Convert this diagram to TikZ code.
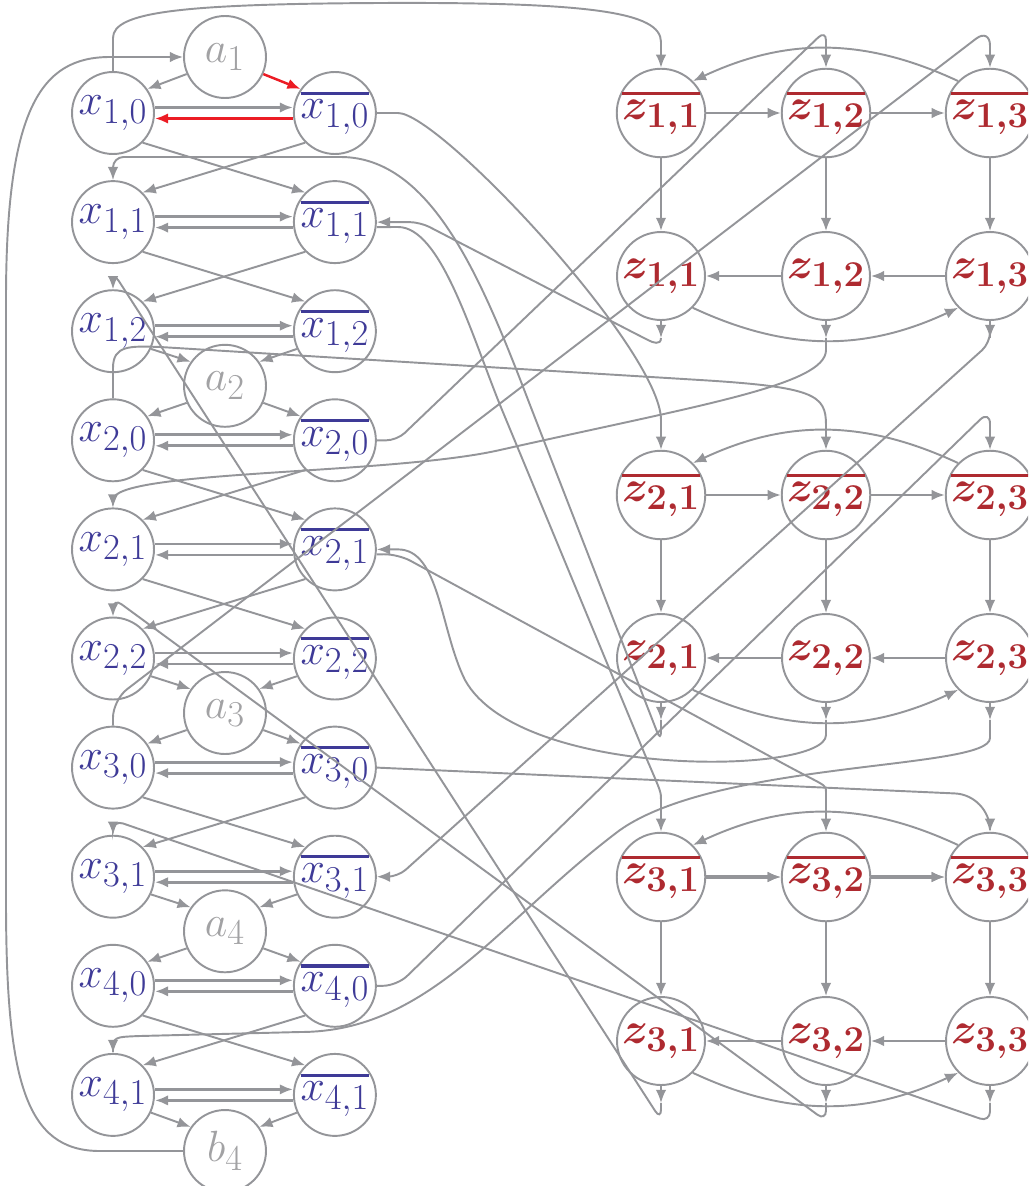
\documentclass[tikz,border=0pt]{standalone}
\usetikzlibrary{arrows.meta,positioning,calc}
\definecolor{Edge}{HTML}{949599}
\definecolor{Lit}{HTML}{3E3A97}
\definecolor{Clause}{HTML}{AE2A30}
\definecolor{Gate}{HTML}{A2A2A4}
\definecolor{Hot}{HTML}{EC1C24}
\newcommand{\negl}[1]{\vbox{\hrule height 1.8pt\kern 3pt\hbox{$#1$}}}
\tikzset{
  lit/.style={circle,draw=Edge,line width=1.1pt,minimum size=1.64cm,inner sep=0pt,text=Lit,font=\fontsize{24.88}{30}\selectfont},
  gate/.style={lit,text=Gate},
  clause/.style={lit,minimum size=1.76cm,text=Clause,font=\fontsize{24.88}{30}\selectfont\boldmath},
  arr/.style={-{Latex[length=7.5pt,width=6pt]},draw=Edge,line width=1.1pt},
  pair/.style={arr,line width=1.6pt},
  hot/.style={arr,draw=Hot,line width=1.4pt}
}

\begin{document}
\begin{tikzpicture}[x=0.02cm,y=-0.02cm,node distance=2.76cm]
  \useasboundingbox (0,0) rectangle (1028,1186);
  \clip (0,0) rectangle (1028,1186);
  % literal copies and their negations
  \foreach \n/\lab/\y in {10/{1,0}/113,11/{1,1}/222.1,12/{1,2}/331.2,20/{2,0}/440.3,21/{2,1}/549.4,
                          22/{2,2}/658.5,30/{3,0}/767.6,31/{3,1}/876.7,40/{4,0}/985.8,41/{4,1}/1094.9}{
    \node[lit] (x\n) at (113,\y) {$x_{\lab}$};
    \node[lit,right=of x\n] (xb\n) {\negl{x_{\lab}}};
  }
  \node[gate] (a1) at (225,57) {$a_1$};
  \node[gate] (a2) at (225,385.8) {$a_2$};
  \node[gate] (a3) at (225,713) {$a_3$};
  \node[gate] (a4) at (225,931.3) {$a_4$};
  \node[gate] (b4) at (225,1151) {$b_4$};
  % clause gadgets
  \foreach \i/\yt/\yb in {1/113/276,2/495/658,3/877/1041}{
    \foreach \j/\xx in {1/661,2/826,3/990}{
      \node[clause] (zb\i\j) at (\xx,\yt) {\negl{z_{\i,\j}}};
      \node[clause] (z\i\j) at (\xx,\yb) {$z_{\i,\j}$};
    }
  }

  % left ladder
  \draw[pair] ($(x10.east)+(0,-5.5)$) -- ($(xb10.west)+(0,-5.5)$);
  \draw[hot,line width=1.8pt] ($(xb10.west)+(0,5.5)$) -- ($(x10.east)+(0,5.5)$);
  \foreach \n in {11,12,20,21,22,30,31,40,41}{
    \draw[pair] ($(x\n.east)+(0,-5.5)$) -- ($(xb\n.west)+(0,-5.5)$);
    \draw[pair] ($(xb\n.west)+(0,5.5)$) -- ($(x\n.east)+(0,5.5)$);
  }
  \foreach \p/\q in {10/11,11/12,20/21,21/22,30/31,40/41}{
    \draw[arr] (x\p.south east) -- (xb\q.north west);
    \draw[arr] (xb\p.south west) -- (x\q.north east);
  }
  \draw[arr] (a1.204) -- (x10.35);
  \draw[hot] (a1.-24) -- (xb10.145);
  \foreach \p/\g/\q in {12/a2/20,22/a3/30,31/a4/40}{
    \draw[arr] (x\p.-25) -- (\g.145);
    \draw[arr] (xb\p.-155) -- (\g.35);
    \draw[arr] (\g.204) -- (x\q.35);
    \draw[arr] (\g.-24) -- (xb\q.145);
  }
  \draw[arr] (x41.-25) -- (b4.145);
  \draw[arr] (xb41.-155) -- (b4.35);
  \draw[arr] (b4.west) -- (100,1151) .. controls (25,1151) and (6,1080) .. (6,900) -- (6,300)
    .. controls (6,110) and (40,57) .. (110,57) -- (a1.west);

  % clause gadgets inside
  \foreach \i in {1,2,3}{
    \draw[arr] (zb\i1) -- (zb\i2);
    \draw[arr] (zb\i2) -- (zb\i3);
    \draw[arr] (z\i3) -- (z\i2);
    \draw[arr] (z\i2) -- (z\i1);
    \draw[arr] (zb\i3.135) to[out=155,in=25] (zb\i1.45);
    \draw[arr] (z\i1.-45) to[out=-25,in=-155] (z\i3.-135);
    \draw[arr,line width=1.5pt] (zb\i1) -- (z\i1);
    \draw[arr] (zb\i2) -- (z\i2);
    \draw[arr] (zb\i3) -- (z\i3);
    \foreach \j in {1,2,3}
      \draw[arr] (z\i\j.south) -- ++(0,17) coordinate (o\i\j);
  }
  \draw[pair,line width=1.8pt] (zb31) -- (zb32);
  \draw[pair,line width=1.8pt] (zb32) -- (zb33);

  % literals into clauses
  \draw[arr] (x10.north) -- (113,38) .. controls (113,12) and (180,4) .. (380,3)
    .. controls (590,2) and (661,12) .. (661,42) -- (zb11.north);
  \draw[arr] (xb10.east) -- (398,113) .. controls (440,113) and (661,350) .. (661,420) -- (zb21.north);
  \draw[arr] ($(xb11.east)+(0,5)$) -- (398,227) .. controls (440,227) and (470,330) .. (500,405)
    -- (648,762) .. controls (661,792) .. (661,800) -- (zb31.north);
  \draw[arr,rounded corners=6pt] (xb20.east) -- (397,440.3) -- (826,30) -- (zb12.north);
  \draw[arr] (x20.north) -- (113,368) .. controls (113,345) and (130,346) .. (160,347) -- (700,380)
    .. controls (815,387) and (826,395) .. (826,425) -- (zb22.north);
  \draw[arr,rounded corners=8pt] ($(xb21.east)+(0,5)$) -- (398,554) -- (795,770)
    .. controls (826,786) .. (826,806) -- (zb32.north);
  \draw[arr,rounded corners=10pt] (x30.north) -- (113,700) -- (990,28) -- (zb13.north);
  \draw[arr,rounded corners=20pt] (xb30.east) -- (990,795) -- (zb33.north);
  \draw[arr,rounded corners=8pt] (xb40.east) -- (397,985.8) -- (990,410) -- (zb23.north);

  % clauses back to literals
  \draw[arr,rounded corners=6pt] (o11) .. controls +(0,8) and +(12,6) .. (640,336) -- (420,222.1) -- (xb11.east);
  \draw[arr,rounded corners=6pt] (o21) -- (661,742) -- (530,405) .. controls (480,275) and (430,157) .. (330,157)
    -- (113,157) -- (x11.north);
  \draw[arr,rounded corners=6pt] (o31) -- (661,1120) -- (113,272) -- (x12.north);
  \draw[arr] (o12) -- (826,350) .. controls (826,385) and (700,405) .. (500,450)
    .. controls (390,475) and (113,470) .. (113,500) -- (x21.north);
  \draw[arr] (o22) -- (826,735) .. controls (826,775) and (520,780) .. (465,680)
    .. controls (440,630) and (440,549.4) .. (398,549.4) -- (xb21.east);
  \draw[arr,rounded corners=6pt] (o32) -- (826,1121) -- (113,598) -- (x22.north);
  \draw[arr,rounded corners=6pt] (o13) -- (990,343) -- (398,876.7) -- (xb31.east);
  \draw[arr,rounded corners=6pt] (o33) -- (990,1122) -- (113,820) -- (x31.north);
  \draw[arr] (o23) -- (990,738) .. controls (990,770) and (720,760) .. (620,830)
    .. controls (500,920) and (430,1032) .. (300,1032) -- (140,1036) .. controls (113,1037) .. (113,1052) -- (x41.north);
\end{tikzpicture}
\end{document}
